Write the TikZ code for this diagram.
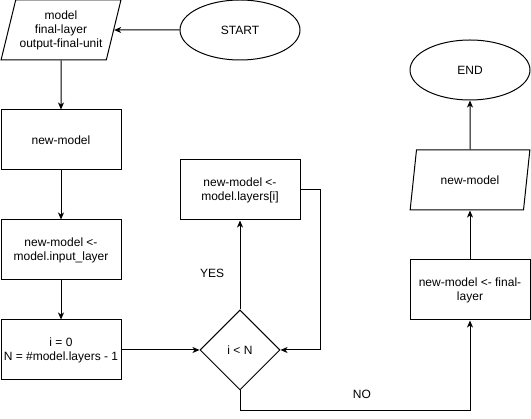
\documentclass[tikz,border=0pt]{standalone}
\usepackage{fontspec}
\setmainfont{Liberation Sans}
\usetikzlibrary{shapes.geometric,arrows.meta}

\begin{document}
\begin{tikzpicture}[x=1pt,y=-1pt,line width=1pt,
   font=\fontsize{12}{14}\selectfont,
   >={Stealth[length=7pt,width=6pt,inset=2pt]},
   proc/.style={draw,rectangle,minimum width=120pt,minimum height=60pt,align=center,inner sep=2pt},
   io/.style={draw,trapezium,trapezium left angle=71.6,trapezium right angle=108.4,
      trapezium stretches=true,minimum width=120pt,minimum height=60pt,align=center,inner sep=1pt},
   term/.style={draw,ellipse,minimum width=120pt,minimum height=60pt},
   test/.style={draw,diamond,minimum width=80pt,minimum height=80pt,inner sep=1pt}]
   \useasboundingbox (0,0) rectangle (531,419);

   % left column
   \node[io]   (input) at (61,30)  {model\\final-layer\\output-final-unit};
   \node[term] (start) at (240,30) {START};
   \node[proc] (newm)  at (61,140) {new-model};
   \node[proc] (inl)   at (61,250) {new-model <-\\model.input\_layer};
   \node[proc] (init)  at (61,350) {i = 0\\N = \#model.layers - 1};

   % loop
   \node[test] (cond)  at (240,350) {i < N};
   \node[proc] (layer) at (240,190) {new-model <-\\model.layers[i]};

   % right column
   \node[proc] (fin)   at (470,290) {new-model <- final-\\layer};
   \node[io]   (out)   at (470,180) {new-model};
   \node[term] (stop)  at (470,70)  {END};

   \draw[->] (start) -- (input);
   \draw[->] (input) -- (newm);
   \draw[->] (newm) -- (inl);
   \draw[->] (inl) -- (init);
   \draw[->] (init) -- (cond);
   \draw[->] (cond) -- node[pos=0.41,left=12pt] {YES} (layer);
   \draw[->] (layer.east) -- ++(20,0) |- (cond.east);
   \draw[->] (cond.south) -- ++(0,20) -| node[pos=0.265,above=8pt] {NO} (fin.south);
   \draw[->] (fin) -- (out);
   \draw[->] (out) -- (stop);
\end{tikzpicture}
\end{document}
